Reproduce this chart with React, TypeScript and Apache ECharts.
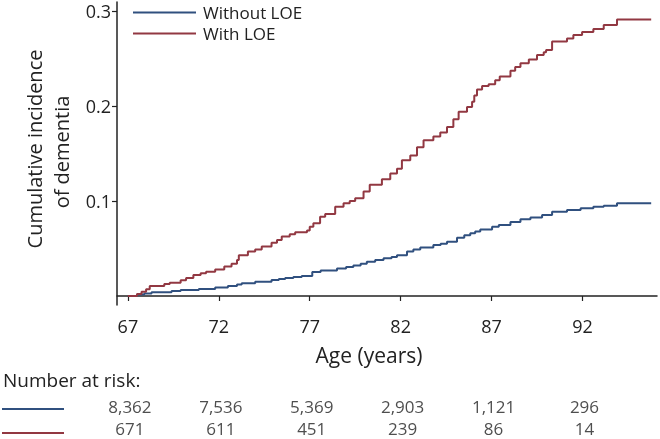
import React, { useEffect, useRef } from "react";
import * as echarts from "echarts";

const seriesNames = ["Without LOE", "With LOE"];
const colors = ["#30507f", "#923842"];

const xTicks = [67, 72, 77, 82, 87, 92];
const yTicks = [0.1, 0.2, 0.3];

const withoutAge = [67.0, 67.5, 67.9, 68.3, 69.4, 69.9, 70.9, 71.8, 72.5, 73.0, 73.26, 74.0, 74.9, 75.3, 75.65, 76.1, 76.56, 77.14, 77.6, 78.5, 79.0, 79.4, 79.8, 80.14, 80.6, 81.06, 81.5, 81.8, 82.35, 82.7, 83.08, 83.8, 84.2, 84.55, 85.1, 85.5, 85.83, 86.1, 86.38, 87.03, 87.4, 88.04, 88.59, 89.14, 89.78, 90.33, 91.15, 91.9, 92.6, 93.17, 93.9, 95.78];
const withoutInc = [0, 0.0015, 0.0025, 0.0039, 0.0053, 0.0063, 0.0074, 0.0088, 0.0105, 0.012, 0.0133, 0.015, 0.0168, 0.018, 0.019, 0.02, 0.021, 0.0253, 0.0267, 0.029, 0.0305, 0.032, 0.034, 0.036, 0.038, 0.0396, 0.041, 0.043, 0.0467, 0.049, 0.051, 0.0537, 0.055, 0.057, 0.0614, 0.064, 0.066, 0.068, 0.07, 0.073, 0.0747, 0.078, 0.0807, 0.0825, 0.0853, 0.0888, 0.0905, 0.0923, 0.094, 0.095, 0.0975, 0.0975];

const withAge = [67.0, 67.5, 67.75, 68.0, 68.2, 69.0, 69.3, 69.9, 70.2, 70.6, 71.0, 71.3, 71.8, 72.3, 72.7, 73.0, 73.1, 73.6, 74.0, 74.36, 74.9, 75.2, 75.46, 75.9, 76.2, 76.85, 77.0, 77.2, 77.57, 77.85, 78.4, 78.86, 79.2, 79.5, 79.96, 80.3, 80.97, 81.43, 81.8, 82.07, 82.53, 82.9, 83.26, 83.8, 84.18, 84.55, 84.9, 85.19, 85.65, 85.93, 86.05, 86.2, 86.48, 86.84, 87.2, 87.45, 88.04, 88.3, 88.59, 89.05, 89.5, 89.87, 90.0, 90.33, 91.15, 91.5, 91.98, 92.6, 93.17, 93.9, 95.78];
const withInc = [0, 0.002, 0.0045, 0.007, 0.0105, 0.0125, 0.014, 0.0165, 0.019, 0.022, 0.024, 0.0256, 0.028, 0.031, 0.034, 0.038, 0.043, 0.0467, 0.049, 0.052, 0.056, 0.059, 0.0625, 0.065, 0.067, 0.069, 0.073, 0.0765, 0.0835, 0.0863, 0.094, 0.0975, 0.1, 0.103, 0.11, 0.117, 0.123, 0.129, 0.134, 0.143, 0.148, 0.1565, 0.164, 0.168, 0.172, 0.178, 0.186, 0.194, 0.199, 0.2045, 0.211, 0.2175, 0.221, 0.223, 0.227, 0.231, 0.237, 0.241, 0.245, 0.249, 0.2537, 0.2565, 0.259, 0.268, 0.271, 0.2747, 0.278, 0.281, 0.2853, 0.291, 0.291];

const riskWithout = [8362, 7536, 5369, 2903, 1121, 296];
const riskWith = [671, 611, 451, 239, 86, 14];

const FONT = "'Open Sans', 'Noto Sans', sans-serif";
const TEXT = "#222";

export default function App() {
  const ref = useRef<HTMLDivElement>(null);
  useEffect(() => {
    if (!ref.current) return;
    const chart = echarts.init(ref.current, null, { renderer: "svg" });
    const zip = (a: number[], b: number[]) => a.map((x, i) => [x, b[i]]);
    const riskData = (vals: number[], row: string) =>
      vals.map((v, i) => [xTicks[i], row, v]);
    const axisLine = { show: true, lineStyle: { color: TEXT, width: 1.5 } };
    chart.setOption({
      animation: false,
      textStyle: { fontFamily: FONT, color: TEXT },
      grid: [
        { left: 117, right: 3, top: 2, height: 303 },
        { left: 117, right: 3, top: 396, height: 48 },
      ],
      legend: {
        data: seriesNames,
        orient: "vertical",
        left: 133,
        top: 4,
        padding: 0,
        itemWidth: 63,
        itemHeight: 2,
        itemGap: 4,
        icon: "rect",
        textStyle: { fontFamily: FONT, fontSize: 17, color: TEXT, lineHeight: 17, padding: [0, 0, 0, 2] },
      },
      xAxis: [
        {
          type: "value",
          min: 66.4,
          max: 96.1,
          axisLine,
          splitLine: { show: false },
          axisTick: { show: true, length: 5, customValues: xTicks, lineStyle: { color: TEXT, width: 1.2 } },
          axisLabel: { customValues: xTicks, fontSize: 18, color: TEXT, fontFamily: FONT, margin: 12 },
        },
        { type: "value", gridIndex: 1, min: 66.4, max: 96.1, show: false },
      ],
      yAxis: [
        {
          type: "value",
          min: -0.0095,
          max: 0.3095,
          axisLine,
          splitLine: { show: false },
          axisTick: { show: true, length: 5, customValues: yTicks, lineStyle: { color: TEXT, width: 1.2 } },
          axisLabel: { customValues: yTicks, fontSize: 18, color: TEXT, fontFamily: FONT, margin: 6 },
        },
        { type: "category", gridIndex: 1, data: seriesNames, inverse: true, show: false },
      ],
      series: [
        {
          name: seriesNames[0],
          type: "line",
          step: "end",
          showSymbol: false,
          data: zip(withoutAge, withoutInc),
          color: colors[0],
          lineStyle: { width: 2, color: colors[0] },
        },
        {
          name: seriesNames[1],
          type: "line",
          step: "end",
          showSymbol: false,
          data: zip(withAge, withInc),
          color: colors[1],
          lineStyle: { width: 2, color: colors[1] },
        },
        {
          type: "scatter",
          xAxisIndex: 1,
          yAxisIndex: 1,
          symbolSize: 1,
          itemStyle: { color: "transparent" },
          data: [...riskData(riskWithout, seriesNames[0]), ...riskData(riskWith, seriesNames[1])],
          label: {
            show: true,
            position: "inside",
            offset: [2, 0],
            fontSize: 17,
            lineHeight: 17,
            color: TEXT,
            fontFamily: FONT,
            formatter: (p: any) => Number(p.value[2]).toLocaleString("en-US"),
          },
        },
      ],
      graphic: [
        {
          type: "text",
          x: 34,
          y: 149,
          rotation: Math.PI / 2,
          style: { text: "Cumulative incidence", fontSize: 20, fontFamily: FONT, fill: TEXT, align: "center", verticalAlign: "middle" },
        },
        {
          type: "text",
          x: 61,
          y: 152,
          rotation: Math.PI / 2,
          style: { text: "of dementia", fontSize: 20, fontFamily: FONT, fill: TEXT, align: "center", verticalAlign: "middle" },
        },
        {
          type: "text",
          x: 369,
          y: 355,
          style: { text: "Age (years)", fontSize: 21, fontFamily: FONT, fill: TEXT, align: "center", verticalAlign: "middle" },
        },
        {
          type: "text",
          x: 3,
          y: 380,
          style: { text: "Number at risk:", fontSize: 19, fontFamily: FONT, fill: TEXT, align: "left", verticalAlign: "middle" },
        },
        { type: "line", shape: { x1: 2, y1: 409, x2: 64, y2: 409 }, style: { stroke: colors[0], lineWidth: 2 } },
        { type: "line", shape: { x1: 2, y1: 433, x2: 64, y2: 433 }, style: { stroke: colors[1], lineWidth: 2 } },
      ],
    });
    return () => chart.dispose();
  }, []);
  return <div ref={ref} style={{ position: "fixed", left: 0, top: 0, width: 660, height: 439 }} />;
}
